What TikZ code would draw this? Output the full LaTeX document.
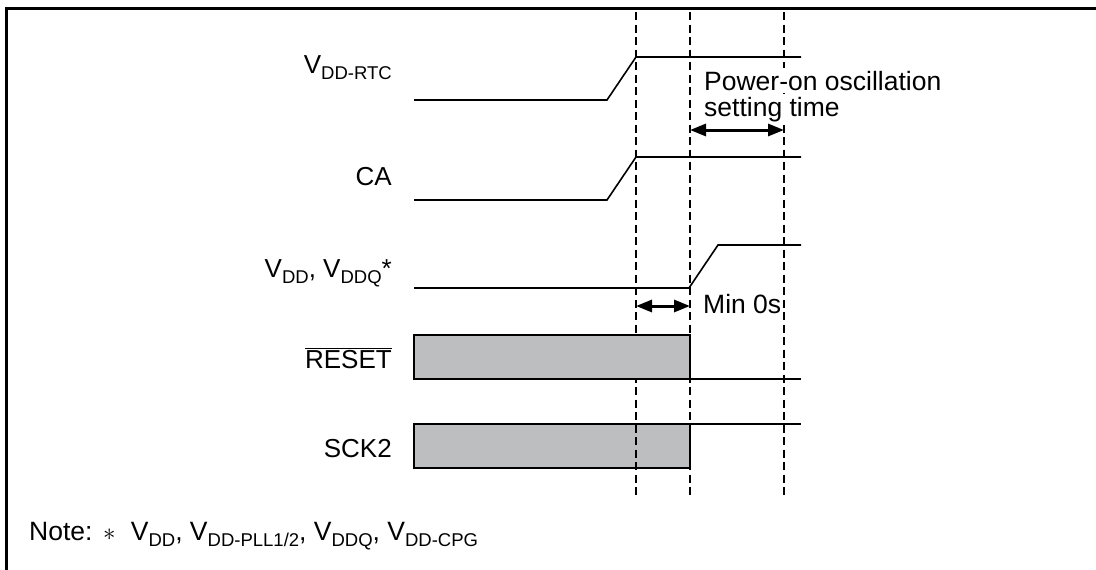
\documentclass[tikz,border=0pt]{standalone}
\usepackage{fontspec}
\setmainfont{Liberation Sans}
\usetikzlibrary{arrows.meta}
\definecolor{boxgray}{HTML}{BDBEC0}
\newcommand{\sbs}[1]{\raisebox{-6.5pt}{\fontsize{18.5}{19}\selectfont #1}}
\begin{document}
\begin{tikzpicture}[x=1pt,y=-1pt,
  sig/.style={line width=1.6pt},
  frame/.style={line width=3pt},
  guide/.style={line width=1.5pt,dash pattern=on 8pt off 4.5pt},
  box/.style={draw,line width=2pt,fill=boxgray},
  dim/.style={line width=3pt,{Triangle[length=16pt,width=12pt]}-{Triangle[length=16pt,width=12pt]}},
  lab/.style={anchor=base east,inner sep=0pt,font=\fontsize{26}{30}\selectfont},
  txt/.style={anchor=base west,inner sep=0pt,font=\fontsize{26.5}{30}\selectfont},
  mask/.style={fill=white,inner xsep=2pt,inner ysep=3pt}]
\useasboundingbox (0,0) rectangle (1096,570);
% frame (only top and left edges visible)
\coordinate (fTL) at (6.5,8.5);
\coordinate (fTR) at (1096,8.5);
\coordinate (fBL) at (6.5,570);
\draw[frame] (fBL) -- (fTL) -- (fTR);

% SCK2 box (dashed lines drawn over it)
\path[box] (414,424) rectangle (690,468);
\coordinate (sckE) at (690,424);
\coordinate (sckR) at (801,424);

% guides
\foreach \x/\n in {636/a,690/b,784/c}{
  \coordinate (g\n top) at (\x,12);
  \coordinate (g\n bot) at (\x,498);
  \draw[guide] (g\n top) -- (g\n bot);
}

% RESET box (covers dashed line)
\path[box] (414,335) rectangle (690,379);
\coordinate (rstE) at (690,379);
\coordinate (rstR) at (801,379);

% signals
\draw[sig] (414,100) -- (607,100) -- (636,57) -- (801,57);
\draw[sig] (414,200) -- (607,200) -- (636,157) -- (801,157);
\draw[sig] (414,288) -- (689,288) -- (718,245) -- (801,245);
\draw[sig] (rstE) -- (rstR);
\draw[sig] (sckE) -- (sckR);

% labels
\node[lab] (lvrtc) at (392,73) {V\sbs{DD-RTC}};
\node[lab] (lca) at (392,185) {CA};
\node[lab] (lvdd) at (392,277) {V\sbs{DD}, V\sbs{DDQ}*};
\node[lab] (lrst) at (392,368) {$\overline{\hbox{RESET}}$};
\node[lab] (lsck) at (392,457) {SCK2};

\node[txt,mask] (pow1) at (702,90) {Power-on oscillation};
\node[txt,mask] (pow2) at (702,116) {setting time};
\node[txt] (min0) at (703,313) {Min 0s};

% dimension arrows
\coordinate (p1) at (690,130);
\coordinate (p2) at (784,130);
\draw[dim] (p1) -- (p2);
\coordinate (m1) at (636,306);
\coordinate (m2) at (690,306);
\draw[dim] (m1) -- (m2);

\node[txt] (note) at (29,540) {Note:\hspace{0.4em}$\ast$\hspace{0.3em} V\sbs{DD}, V\sbs{DD-PLL1/2}, V\sbs{DDQ}, V\sbs{DD-CPG}};
\end{tikzpicture}
\end{document}
